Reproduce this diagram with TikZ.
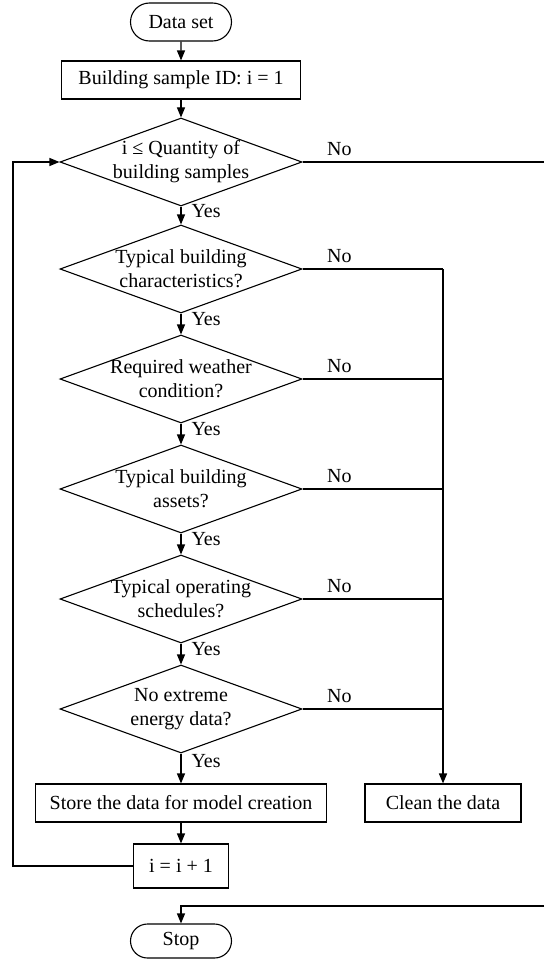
\documentclass[tikz,border=0pt]{standalone}
\usepackage{fontspec}
\setmainfont{Liberation Serif}
\usetikzlibrary{shapes.geometric,shapes.misc,arrows.meta}

\begin{document}
\begin{tikzpicture}[x=1pt,y=-1pt,->,>={Triangle[length=10pt,width=8pt]},line width=1.1pt,
  font=\fontsize{20}{24}\selectfont,
  terminal/.style={rounded rectangle,draw,minimum width=101pt,minimum height=38pt,inner sep=0pt},
  process/.style={rectangle,draw,minimum height=38pt,inner sep=0pt},
  decision/.style={diamond,draw,minimum width=242pt,minimum height=88pt,inner sep=0pt},
  yes/.style={right,pos=0.25,inner sep=2pt,xshift=8pt},
  no/.style={above right,inner sep=2pt,xshift=22pt,yshift=4pt,at start}]
              \useasboundingbox (0,0) rectangle (544,961);

              \node[terminal] (start) at (181,22) {Data set};
              \node[process,minimum width=239pt] (init) at (181,80) {Building  sample ID: i = 1};
              \node[decision,label={[align=center]center:{i ≤ Quantity of\\building  samples}}] (d1) at (181,162) {};
              \node[decision,label={[align=center]center:{Typical building\\characteristics?}}] (d2) at (181,269) {};
              \node[decision,label={[align=center]center:{Required weather\\condition?}}] (d3) at (181,379) {};
              \node[decision,label={[align=center]center:{Typical building\\assets?}}] (d4) at (181,489) {};
              \node[decision,label={[align=center]center:{Typical operating\\schedules?}}] (d5) at (181,599) {};
              \node[decision,label={[align=center]center:{No extreme\\energy data?}}] (d6) at (181,709) {};
              \node[process,minimum width=291pt] (store) at (181,803) {Store the data for model creation};
              \node[process,minimum width=156pt] (clean) at (443,803) {Clean the data};
              \node[process,minimum width=95pt,minimum height=44pt] (incr) at (181,866) {i = i + 1};
              \node[terminal,minimum height=34pt] (stop) at (181,941) {Stop};

              \coordinate (exitA) at (544,162);
              \coordinate (exitB) at (544,906);
              \coordinate (loop) at (13,866);

              \path
                (start) edge (init)
                (init) edge (d1)
                (d1) edge node[yes] {Yes} (d2)
                (d2) edge node[yes] {Yes} (d3)
                (d3) edge node[yes] {Yes} (d4)
                (d4) edge node[yes] {Yes} (d5)
                (d5) edge node[yes] {Yes} (d6)
                (d6) edge node[yes] {Yes} (store)
                (store) edge (incr)
                ;

              \draw[-] (d1.east) -- node[no] {No} (exitA);
              \draw[-] (d2.east) -- node[no] {No} (d2.east -| clean);
              \draw[-] (d3.east) -- node[no] {No} (d3.east -| clean);
              \draw[-] (d4.east) -- node[no] {No} (d4.east -| clean);
              \draw[-] (d5.east) -- node[no] {No} (d5.east -| clean);
              \draw[-] (d6.east) -- node[no] {No} (d6.east -| clean);
              \draw[line width=1.6pt] (d2.east -| clean) -- (clean.north);

              \draw (incr.west) -- (loop) |- (d1.west);
              \draw (exitB) -| (stop.north);
            \end{tikzpicture}
\end{document}
